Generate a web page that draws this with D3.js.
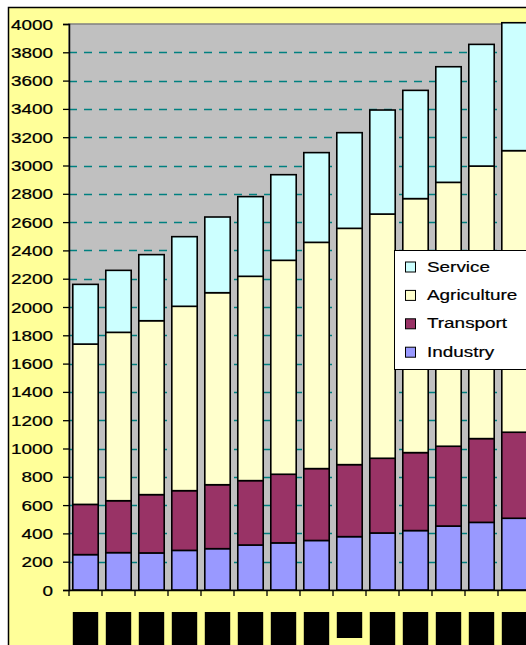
<!DOCTYPE html>
<html>
<head>
<meta charset="utf-8">
<script src="https://cdn.jsdelivr.net/npm/d3@7/dist/d3.min.js"></script>
<style>
  html, body { margin: 0; padding: 0; background: #ffffff; overflow: hidden; }
  svg { display: block; font-family: Arial, "Liberation Sans", sans-serif; }
</style>
</head>
<body>
<svg id="chart" width="526" height="645"></svg>
<script>
// Energy use by sector, stacked per year
const years = ["1990", "1991", "1992", "1993", "1994", "1995", "1996",
               "1997", "1998", "1999", "2000", "2001", "2002", "2003"];
const industry    = [250, 264, 262, 280, 292, 318, 333, 350, 377, 403, 420, 452, 478, 507];
const transport   = [355, 367, 412, 422, 452, 455, 485, 508, 509, 528, 551, 564, 592, 608];
const agriculture = [1133, 1190, 1229, 1303, 1357, 1444, 1512, 1599, 1670, 1726, 1795, 1865, 1926, 1990];
const service     = [422, 438, 467, 492, 535, 563, 605, 634, 676, 735, 765, 817, 860, 904];

const seriesNames  = ["Industry", "Transport", "Agriculture", "Service"];
const seriesColors = ["#9999FF", "#993366", "#FFFFCC", "#CCFFFF"];
const yTickValues  = d3.range(0, 4001, 200);
const yMax = 4000;

const rows = years.map((yr, i) => ({
  year: yr,
  Industry: industry[i],
  Transport: transport[i],
  Agriculture: agriculture[i],
  Service: service[i]
}));

const svg = d3.select("#chart");

// frame geometry
const plotLeft = 69, plotTop = 24, plotBottom = 590;
const step = 33;
const plotRight = plotLeft + step * years.length;
const textStretch = 1.22;

const x = d3.scaleBand()
  .domain(years)
  .range([plotLeft, plotRight])
  .paddingInner(0.23)
  .paddingOuter(0.115);

const y = d3.scaleLinear().domain([0, yMax]).range([plotBottom, plotTop]);

const color = d3.scaleOrdinal().domain(seriesNames).range(seriesColors);

// outer chart area
svg.append("rect")
  .attr("x", 8.5).attr("y", 7.5)
  .attr("width", 700).attr("height", 700)
  .attr("fill", "#FFFF99")
  .attr("stroke", "#000").attr("stroke-width", 1.5);

// plot area
svg.append("rect")
  .attr("x", plotLeft).attr("y", plotTop)
  .attr("width", plotRight - plotLeft).attr("height", plotBottom - plotTop)
  .attr("fill", "#C0C0C0")
  .attr("stroke", "#808080").attr("stroke-width", 1.5);

// dashed gridlines
svg.append("g")
  .selectAll("line")
  .data(yTickValues.filter(v => v > 0 && v < yMax))
  .join("line")
  .attr("x1", plotLeft).attr("x2", plotRight)
  .attr("y1", d => Math.round(y(d)) + 0.5)
  .attr("y2", d => Math.round(y(d)) + 0.5)
  .attr("stroke", "#008080")
  .attr("stroke-width", 1.3)
  .attr("stroke-dasharray", "8,7");

// stacked bars
const stacked = d3.stack().keys(seriesNames)(rows);

svg.append("g")
  .selectAll("g")
  .data(stacked)
  .join("g")
  .attr("fill", d => color(d.key))
  .selectAll("rect")
  .data(d => d)
  .join("rect")
  .attr("x", d => x(d.data.year))
  .attr("width", x.bandwidth())
  .attr("y", d => y(d[1]))
  .attr("height", d => y(d[0]) - y(d[1]))
  .attr("stroke", "#000")
  .attr("stroke-width", 1.6);

// y axis
const yAxis = d3.axisLeft(y)
  .tickValues(yTickValues)
  .tickSize(6)
  .tickFormat("");

const yAxisG = svg.append("g")
  .attr("transform", `translate(${plotLeft},0)`)
  .call(yAxis);
yAxisG.select(".domain").attr("stroke", "#000").attr("stroke-width", 1.5);
yAxisG.selectAll(".tick line").attr("stroke", "#000").attr("stroke-width", 1.3);

// y tick labels (wide Arial look)
svg.append("g")
  .selectAll("g")
  .data(yTickValues)
  .join("g")
  .attr("transform", d => `translate(53,${y(d) + 5.5}) scale(${textStretch},1)`)
  .append("text")
  .attr("text-anchor", "end")
  .attr("font-size", 15.5)
  .attr("fill", "#000")
  .attr("stroke", "#000")
  .attr("stroke-width", 0.25)
  .text(d => d3.format("d")(d));

// x axis baseline and boundary ticks
const xAxis = d3.axisBottom(x).tickSize(0).tickFormat("");
const xAxisG = svg.append("g")
  .attr("transform", `translate(0,${plotBottom})`)
  .call(xAxis);
xAxisG.select(".domain").attr("stroke", "#000").attr("stroke-width", 1.5);

svg.append("g")
  .selectAll("line")
  .data(d3.range(years.length + 1))
  .join("line")
  .attr("x1", i => plotLeft + i * x.step())
  .attr("x2", i => plotLeft + i * x.step())
  .attr("y1", plotBottom).attr("y2", plotBottom + 6)
  .attr("stroke", "#000").attr("stroke-width", 1.3);

// category labels, set in solid black blocks
const catG = svg.append("g")
  .selectAll("g")
  .data(years)
  .join("g")
  .attr("transform", d => `translate(${x(d) + x.bandwidth() / 2},612)`);

catG.append("rect")
  .attr("x", -x.bandwidth() / 2)
  .attr("y", 0)
  .attr("width", x.bandwidth())
  .attr("height", (d, i) => i === 8 ? 26 : 60)
  .attr("fill", "#000");

catG.append("text")
  .attr("transform", "rotate(-90)")
  .attr("x", -14)
  .attr("y", 4)
  .attr("text-anchor", "middle")
  .attr("font-size", 10)
  .attr("font-weight", "bold")
  .attr("fill", "#000")
  .text(d => d);

// legend
const legendItems = seriesNames.slice().reverse();
const legend = svg.append("g");
legend.append("rect")
  .attr("x", 394.5).attr("y", 250.5)
  .attr("width", 200).attr("height", 119)
  .attr("fill", "#fff")
  .attr("stroke", "#000").attr("stroke-width", 1);

const li = legend.selectAll("g")
  .data(legendItems)
  .join("g")
  .attr("transform", (d, i) => `translate(0,${271.5 + i * 28.4})`);

li.append("rect")
  .attr("x", 405.5).attr("y", -9.5)
  .attr("width", 10).attr("height", 10)
  .attr("fill", d => color(d))
  .attr("stroke", "#000").attr("stroke-width", 1);

li.append("g")
  .attr("transform", `translate(427,0) scale(1.22,1)`)
  .append("text")
  .attr("font-size", 15.5)
  .attr("fill", "#000")
  .attr("stroke", "#000")
  .attr("stroke-width", 0.2)
  .text(d => d);
</script>
</body>
</html>
